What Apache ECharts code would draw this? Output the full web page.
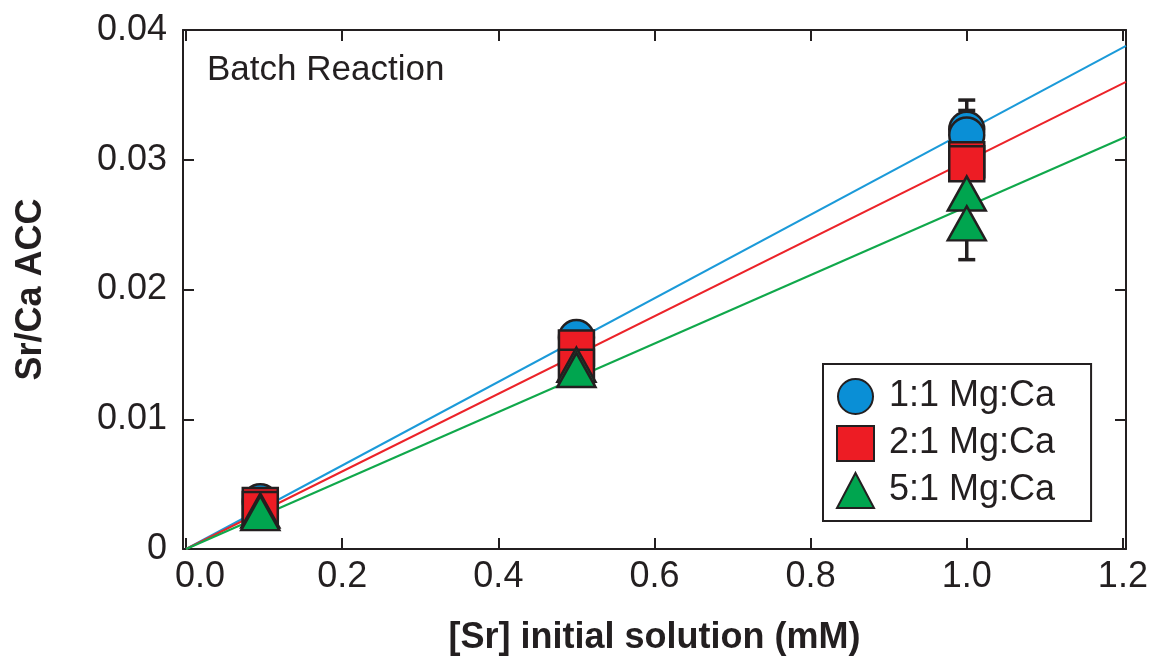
<!DOCTYPE html>
<html>
<head>
<meta charset="utf-8">
<script src="https://cdn.jsdelivr.net/npm/echarts@6/dist/echarts.min.js"></script>
<style>
  html, body { margin: 0; padding: 0; background: #ffffff; }
  #chart { width: 1156px; height: 661px; }
</style>
</head>
<body>
<div id="chart"></div>
<script>
// ---- data ----
const seriesNames = ['1:1 Mg:Ca', '2:1 Mg:Ca', '5:1 Mg:Ca'];
const xTicks = [0, 0.2, 0.4, 0.6, 0.8, 1.0, 1.2];
const yTicks = [0, 0.01, 0.02, 0.03, 0.04];

const mg1Points = [[0.095, 0.00365], [0.5, 0.0163], [1.0, 0.03235], [1.0, 0.0319]];
const mg2Points = [[0.095, 0.00335], [0.095, 0.00304], [0.5, 0.0155], [0.5, 0.0140], [1.0, 0.0300], [1.0, 0.0297]];
const mg5Points = [[0.095, 0.00296], [0.095, 0.00277], [0.5, 0.0142], [0.5, 0.0138], [1.0, 0.0274], [1.0, 0.0251]];

// error bars: [x, low, high]
const mg1Errors = [[1.0, 0.0300, 0.0346], [1.0, 0.0300, 0.0338]];
const mg5Errors = [[1.0, 0.0223, 0.0290]];

// fitted lines through origin: [[x0,y0],[x1,y1]]
const mg1Fit = [[0, 0], [1.204, 0.03877]];
const mg2Fit = [[0, 0], [1.204, 0.03600]];
const mg5Fit = [[0, 0], [1.204, 0.03177]];

// ---- styling ----
const INK = '#231f20';
const FONT = "'Liberation Sans', Arial, Helvetica, sans-serif";
const BLUE = '#0a8fd6', RED = '#ed1c24', GREEN = '#00a54f';
const BLUE_L = '#1b9ad9', RED_L = '#ec2329', GREEN_L = '#10a84b';

const chart = echarts.init(document.getElementById('chart'), null, { renderer: 'canvas' });

function errorRender(params, api) {
  const x = api.value(0), lo = api.value(1), hi = api.value(2);
  const pLo = api.coord([x, lo]);
  const pHi = api.coord([x, hi]);
  const hw = 8.5;
  const st = { stroke: INK, lineWidth: 3.5 };
  return {
    type: 'group',
    children: [
      { type: 'line', shape: { x1: pLo[0], y1: pLo[1], x2: pHi[0], y2: pHi[1] }, style: st },
      { type: 'line', shape: { x1: pLo[0] - hw, y1: pLo[1], x2: pLo[0] + hw, y2: pLo[1] }, style: st },
      { type: 'line', shape: { x1: pHi[0] - hw, y1: pHi[1], x2: pHi[0] + hw, y2: pHi[1] }, style: st }
    ]
  };
}

function axisLineStyle() { return { show: true, onZero: false, lineStyle: { color: INK, width: 2 } }; }
function tickStyle(extra) {
  return Object.assign({ show: true, inside: true, length: 11, lineStyle: { color: INK, width: 2 } }, extra || {});
}

const option = {
  backgroundColor: '#ffffff',
  animation: false,
  title: {
    text: 'Batch Reaction',
    left: 207, top: 53, padding: 0,
    textStyle: { fontFamily: FONT, fontSize: 35, fontWeight: 'normal', color: INK }
  },
  legend: {
    orient: 'vertical',
    left: 823, top: 364,
    padding: [14, 36, 12, 13],
    itemWidth: 37, itemHeight: 35, itemGap: 10,
    borderColor: INK, borderWidth: 2,
    backgroundColor: '#ffffff',
    selectedMode: false,
    data: [
      { name: seriesNames[0], icon: 'circle' },
      { name: seriesNames[1], icon: 'rect' },
      { name: seriesNames[2], icon: 'triangle' }
    ],
    textStyle: { fontFamily: FONT, fontSize: 36, color: INK, padding: [0, 0, 0, 10] }
  },
  grid: { left: 183, top: 30, width: 943, height: 520, containLabel: false },
  xAxis: [
    {
      type: 'value', min: -0.004, max: 1.204, position: 'bottom',
      splitLine: { show: false },
      axisLine: axisLineStyle(),
      axisTick: tickStyle({ customValues: xTicks }),
      axisLabel: {
        customValues: xTicks, margin: 10,
        formatter: v => (v === 0 ? '{z|0.0}' : v.toFixed(1)),
        fontFamily: FONT, fontSize: 36, color: INK,
        rich: { z: { fontFamily: FONT, fontSize: 36, color: INK, padding: [0, 0, 0, 28] } }
      },
      name: '[Sr] initial solution (mM)',
      nameLocation: 'middle', nameGap: 71,
      nameTextStyle: { fontFamily: FONT, fontSize: 36, fontWeight: 'bold', color: INK }
    },
    {
      type: 'value', min: -0.004, max: 1.204, position: 'top',
      splitLine: { show: false },
      axisLine: axisLineStyle(),
      axisTick: tickStyle({ customValues: xTicks }),
      axisLabel: { show: false }
    }
  ],
  yAxis: [
    {
      type: 'value', min: 0, max: 0.04, interval: 0.01, position: 'left',
      splitLine: { show: false },
      axisLine: axisLineStyle(),
      axisTick: tickStyle(),
      axisLabel: {
        margin: 16,
        formatter: v => (v === 0 ? '0' : v.toFixed(2)),
        fontFamily: FONT, fontSize: 36, color: INK
      },
      name: 'Sr/Ca ACC',
      nameLocation: 'middle', nameGap: 134,
      nameTextStyle: { fontFamily: FONT, fontSize: 36, fontWeight: 'bold', color: INK }
    },
    {
      type: 'value', min: 0, max: 0.04, interval: 0.01, position: 'right',
      splitLine: { show: false },
      axisLine: axisLineStyle(),
      axisTick: tickStyle(),
      axisLabel: { show: false }
    }
  ],
  series: [
    { type: 'line', data: mg1Fit, showSymbol: false, silent: true, z: 1, lineStyle: { color: BLUE_L, width: 2 } },
    { type: 'line', data: mg2Fit, showSymbol: false, silent: true, z: 1, lineStyle: { color: RED_L, width: 2 } },
    { type: 'line', data: mg5Fit, showSymbol: false, silent: true, z: 1, lineStyle: { color: GREEN_L, width: 2 } },
    { type: 'custom', renderItem: errorRender, data: mg1Errors, encode: { x: 0, y: [1, 2] }, z: 2, silent: true },
    { type: 'custom', renderItem: errorRender, data: mg5Errors, encode: { x: 0, y: [1, 2] }, z: 2, silent: true },
    {
      name: seriesNames[0], type: 'scatter', data: mg1Points, symbol: 'circle', symbolSize: 35, z: 3,
      itemStyle: { color: BLUE, borderColor: INK, borderWidth: 2.5, opacity: 1 }
    },
    {
      name: seriesNames[1], type: 'scatter', data: mg2Points, symbol: 'rect', symbolSize: 35, z: 4,
      itemStyle: { color: RED, borderColor: INK, borderWidth: 2.5, opacity: 1 }
    },
    {
      name: seriesNames[2], type: 'scatter', data: mg5Points, symbol: 'triangle', symbolSize: [38, 34], z: 5,
      itemStyle: { color: GREEN, borderColor: INK, borderWidth: 2.5, opacity: 1 }
    }
  ]
};

chart.setOption(option);
</script>
</body>
</html>
